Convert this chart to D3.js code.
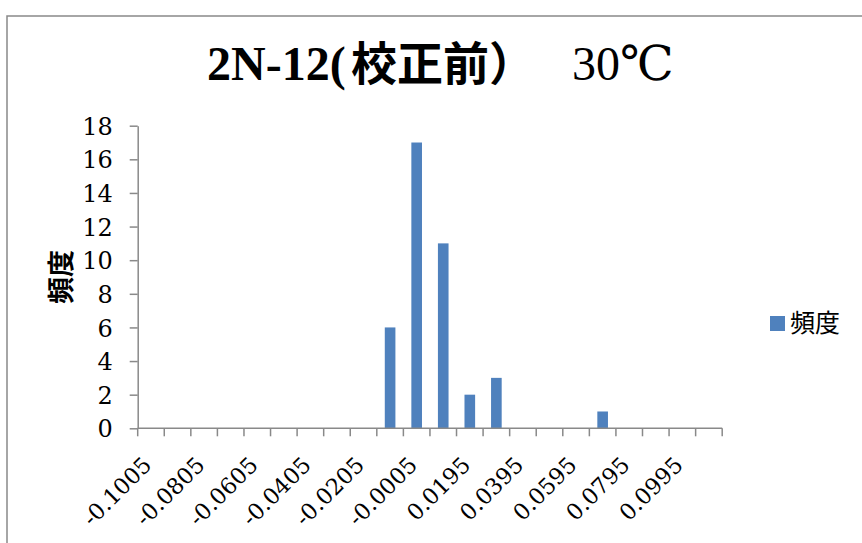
<!DOCTYPE html>
<html>
<head>
<meta charset="utf-8">
<script src="https://cdn.jsdelivr.net/npm/d3@7/dist/d3.min.js"></script>
<style>
  html, body { margin: 0; padding: 0; background: #fff; }
  svg { display: block; }
  .serif { font-family: "Liberation Serif", "DejaVu Serif", "Times New Roman", serif; }
  .tick-font { font-family: "DejaVu Serif", "Liberation Serif", serif; }
  .cjk { font-family: "Noto Sans CJK JP", sans-serif; }
</style>
</head>
<body>
<svg id="chart" width="862" height="543"></svg>
<script>
// ---- data ----
const categories = ["-0.1005","-0.0905","-0.0805","-0.0705","-0.0605","-0.0505","-0.0405","-0.0305","-0.0205","-0.0105","-0.0005","0.0095","0.0195","0.0295","0.0395","0.0495","0.0595","0.0695","0.0795","0.0895","0.0995","次の級"];
const frequency = [0,0,0,0,0,0,0,0,0,6,17,11,2,3,0,0,0,1,0,0,0,0];
const yTicks = [0,2,4,6,8,10,12,14,16,18];
const titleParts = ["2N-12(", "校正前）", "30℃"];
const seriesName = "頻度";
const yTitle = "頻度";

// ---- layout ----
const svg = d3.select("#chart");
const plot = { left: 137.7, right: 722.2, top: 125.7, bottom: 428.3 };
const barColor = "#4F81BD";
const axisColor = "#898989";

// outer frame
svg.append("rect")
  .attr("x", 7).attr("y", 16).attr("width", 880).attr("height", 560)
  .attr("fill", "#fff").attr("stroke", axisColor).attr("stroke-width", 1.5);

const x = d3.scaleBand().domain(categories)
  .range([plot.left, plot.right]).paddingInner(0.6).paddingOuter(0.3);
const y = d3.scaleLinear().domain([0, 18]).range([plot.bottom, plot.top]);

// bars
svg.append("g").selectAll("rect").data(categories.map((c, i) => ({ c, v: frequency[i] })))
  .join("rect")
  .attr("x", d => x(d.c))
  .attr("width", x.bandwidth())
  .attr("y", d => y(d.v))
  .attr("height", d => y(0) - y(d.v))
  .attr("fill", barColor);

// y axis
const yAxis = svg.append("g")
  .attr("transform", `translate(${plot.left},0)`)
  .call(d3.axisLeft(y).tickValues(yTicks).tickSize(8).tickPadding(17).tickSizeOuter(0));
yAxis.attr("font-family", null).attr("font-size", null);
yAxis.select(".domain").attr("stroke", axisColor).attr("stroke-width", 1.5);
yAxis.selectAll(".tick line").attr("stroke", axisColor).attr("stroke-width", 1.5);
yAxis.selectAll(".tick text")
  .attr("class", "tick-font").style("font-size", "24px").attr("fill", "#000")
  .attr("dy", "0.36em");

// x axis line
svg.append("line")
  .attr("x1", plot.left).attr("x2", plot.right)
  .attr("y1", y(0)).attr("y2", y(0))
  .attr("stroke", axisColor).attr("stroke-width", 1.5);

// x ticks at category boundaries
const step = x.step();
const bounds = categories.map(c => x(c) - step * 0.3).concat([plot.right]);
svg.append("g").selectAll("line").data(bounds).join("line")
  .attr("x1", d => d).attr("x2", d => d)
  .attr("y1", y(0)).attr("y2", y(0) + 8)
  .attr("stroke", axisColor).attr("stroke-width", 1.5);

// x labels (every other category)
svg.append("g").selectAll("text")
  .data(categories.filter((c, i) => i % 2 === 0))
  .join("text")
  .attr("class", "tick-font")
  .attr("transform", d => `translate(${x(d) + x.bandwidth() / 2 + 2},${y(0) + 38}) rotate(-45)`)
  .attr("text-anchor", "end")
  .style("font-size", "22.5px").attr("fill", "#000")
  .text(d => d);

// y title
svg.append("text")
  .attr("class", "cjk")
  .attr("transform", "translate(71,277) rotate(-90)")
  .attr("text-anchor", "middle")
  .style("font-weight", "bold").style("font-size", "27px")
  .attr("fill", "#000")
  .text(yTitle);

// title
const title = svg.append("text")
  .attr("y", 80).attr("fill", "#000");
title.append("tspan").attr("x", 207).attr("class", "serif")
  .style("font-weight", "bold").style("font-size", "48px")
  .text(titleParts[0]);
title.append("tspan").attr("x", 351).attr("class", "cjk")
  .style("font-weight", "bold").style("font-size", "46px")
  .text(titleParts[1]);
title.append("tspan").attr("x", 572).attr("class", "serif")
  .style("font-size", "48px")
  .text(titleParts[2]);

// legend
svg.append("rect")
  .attr("x", 770).attr("y", 316).attr("width", 15).attr("height", 15)
  .attr("fill", barColor);
svg.append("text")
  .attr("x", 790).attr("y", 332).attr("class", "cjk")
  .style("font-size", "25px").attr("fill", "#000")
  .text(seriesName);
</script>
</body>
</html>
